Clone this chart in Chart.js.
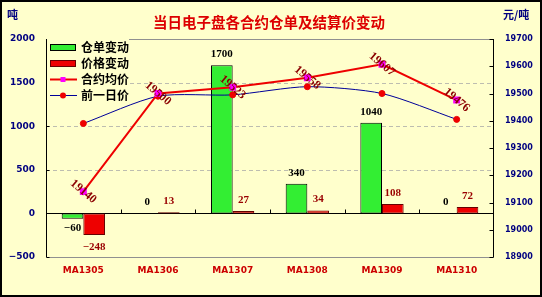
<!DOCTYPE html>
<html lang="zh">
<head>
<meta charset="UTF-8">
<script src="https://cdn.jsdelivr.net/npm/chart.js"></script>
<title>当日电子盘各合约仓单及结算价变动</title>
<style>
    body { margin: 0; background: #ffffff; }
</style>
</head>
<body>
<canvas id="grafico" width="542" height="297"></canvas>
<script>
    // dados
    const contratos = ['MA1305', 'MA1306', 'MA1307', 'MA1308', 'MA1309', 'MA1310'];
    const cangdanBiandong = [-60, 0, 1700, 340, 1040, 0];      // 仓单变动 (吨)
    const jiageBiandong = [-248, 13, 27, 34, 108, 72];         // 价格变动
    const heyueJunjia = [19140, 19500, 19523, 19558, 19607, 19476]; // 合约均价 (元/吨)
    const qianYiriJia = [19390, 19490, 19495, 19525, 19500, 19405]; // 前一日价

    const corFundo = '#ffffcc';

    // fundo, grade e moldura
    const fundo = {
        id: 'fundo',
        beforeDraw(chart) {
            const ctx = chart.ctx;
            ctx.save();
            ctx.fillStyle = corFundo;
            ctx.fillRect(0, 0, chart.width, chart.height);
            ctx.restore();
        },
        beforeDatasetsDraw(chart) {
            const { ctx, chartArea: a, scales: { x, y } } = chart;
            ctx.save();
            ctx.lineWidth = 1;
            ctx.strokeStyle = '#bdbdb0';
            ctx.setLineDash([4, 3]);
            [500, 1000, 1500].forEach(function (v) {
                const py = Math.round(y.getPixelForValue(v)) + 0.5;
                ctx.beginPath(); ctx.moveTo(a.left, py); ctx.lineTo(a.right, py); ctx.stroke();
            });
            ctx.setLineDash([]);
            ctx.strokeStyle = '#909090';
            [a.top, a.bottom].forEach(function (p) {
                const py = Math.round(p) + 0.5;
                ctx.beginPath(); ctx.moveTo(a.left, py); ctx.lineTo(a.right, py); ctx.stroke();
            });
            // linha do zero com marcas entre categorias
            const zero = Math.round(y.getPixelForValue(0)) + 0.5;
            ctx.strokeStyle = '#000000';
            ctx.beginPath(); ctx.moveTo(a.left, zero); ctx.lineTo(a.right, zero); ctx.stroke();
            for (let i = 0; i < contratos.length - 1; i++) {
                const px = Math.round((x.getPixelForValue(i) + x.getPixelForValue(i + 1)) / 2) + 0.5;
                ctx.beginPath(); ctx.moveTo(px, zero); ctx.lineTo(px, zero - 4); ctx.stroke();
            }
            ctx.restore();
        },
        afterDatasetsDraw(chart) {
            const { ctx, chartArea: a, scales: { y, y1 } } = chart;
            ctx.save();
            ctx.strokeStyle = '#000000';
            ctx.lineWidth = 1;
            const l = Math.round(a.left) + 0.5, r = Math.round(a.right) - 0.5;
            ctx.beginPath(); ctx.moveTo(l, a.top); ctx.lineTo(l, a.bottom); ctx.stroke();
            ctx.beginPath(); ctx.moveTo(r, a.top); ctx.lineTo(r, a.bottom); ctx.stroke();
            for (let v = -500; v <= 2000; v += 500) {
                const py = Math.round(y.getPixelForValue(v)) + 0.5;
                ctx.beginPath(); ctx.moveTo(l, py); ctx.lineTo(l + 3, py); ctx.stroke();
            }
            for (let v = 18900; v <= 19700; v += 100) {
                const py = Math.round(y1.getPixelForValue(v)) + 0.5;
                ctx.beginPath(); ctx.moveTo(r - 4, py); ctx.lineTo(r, py); ctx.stroke();
            }

            // rotulos das barras
            ctx.textAlign = 'center';
            ctx.textBaseline = 'middle';
            const m0 = chart.getDatasetMeta(0), m1 = chart.getDatasetMeta(1);
            ctx.font = 'bold 11px "Liberation Serif"';
            ctx.fillStyle = '#000000';
            cangdanBiandong.forEach(function (v, i) {
                const el = m0.data[i];
                ctx.fillText(String(v).replace('-', '\u2212'), el.x, v < 0 ? el.y + 10 : el.y - 11);
            });
            ctx.fillStyle = '#990000';
            jiageBiandong.forEach(function (v, i) {
                const el = m1.data[i];
                ctx.fillText(String(v).replace('-', '\u2212'), el.x, v < 0 ? el.y + 12 : el.y - 11);
            });

            // rotulos inclinados do 合约均价
            const m2 = chart.getDatasetMeta(2);
            ctx.font = 'bold 12px "Liberation Serif"';
            ctx.fillStyle = '#8b0000';
            heyueJunjia.forEach(function (v, i) {
                const el = m2.data[i];
                ctx.save();
                ctx.translate(el.x, el.y);
                ctx.rotate(40 * Math.PI / 180);
                ctx.fillText(String(v), 0, 0);
                ctx.restore();
            });
            ctx.restore();
        },
        afterDraw(chart) {
            const ctx = chart.ctx;
            ctx.save();
            // titulo e unidades
            ctx.textBaseline = 'middle';
            ctx.textAlign = 'center';
            ctx.fillStyle = '#dd0000';
            ctx.font = 'bold 14.5px "Noto Sans CJK SC"';
            ctx.fillText('当日电子盘各合约仓单及结算价变动', 269, 22);
            ctx.textAlign = 'left';
            ctx.fillStyle = '#000080';
            ctx.font = 'bold 11px "Noto Sans CJK SC"';
            ctx.fillText('吨', 7, 15);
            ctx.fillText('元/吨', 503, 15);

            // legenda
            ctx.fillStyle = corFundo;
            ctx.fillRect(47, 36, 82, 68);
            const linhas = [47.5, 63.5, 79.5, 95.5];
            ctx.lineWidth = 1;
            ctx.fillStyle = '#33ee33';
            ctx.fillRect(50, 44, 26, 7);
            ctx.strokeStyle = '#000000';
            ctx.strokeRect(50.5, 44.5, 25, 6);
            ctx.fillStyle = '#ee0000';
            ctx.fillRect(50, 60, 26, 7);
            ctx.strokeStyle = '#660000';
            ctx.strokeRect(50.5, 60.5, 25, 6);
            ctx.strokeStyle = '#ee0000';
            ctx.lineWidth = 2;
            ctx.beginPath(); ctx.moveTo(50, 79.5); ctx.lineTo(77, 79.5); ctx.stroke();
            ctx.fillStyle = '#ff00ff';
            ctx.fillRect(60.5, 77, 5, 5);
            ctx.strokeStyle = '#000099';
            ctx.lineWidth = 1;
            ctx.beginPath(); ctx.moveTo(50, 95.5); ctx.lineTo(77, 95.5); ctx.stroke();
            ctx.fillStyle = '#ee0000';
            ctx.beginPath(); ctx.arc(63, 95.5, 3, 0, Math.PI * 2); ctx.fill();
            ctx.fillStyle = '#000000';
            ctx.font = 'bold 12px "Noto Sans CJK SC"';
            ['仓单变动', '价格变动', '合约均价', '前一日价'].forEach(function (t, i) {
                ctx.fillText(t, 81, linhas[i]);
            });

            // moldura externa
            ctx.strokeStyle = '#000000';
            ctx.lineWidth = 2;
            ctx.strokeRect(1, 1, chart.width - 2, chart.height - 2);
            ctx.restore();
        }
    };

    const fonteEixo = { family: 'DejaVu Sans', weight: 'bold', size: 9 };

    const config = {
        data: {
            labels: contratos,
            datasets: [
                {
                    type: 'bar', label: '仓单变动', data: cangdanBiandong, yAxisID: 'y',
                    backgroundColor: '#33ee33', borderColor: '#000000', borderWidth: 1, borderSkipped: false,
                    categoryPercentage: 0.58, barPercentage: 1, order: 3
                },
                {
                    type: 'bar', label: '价格变动', data: jiageBiandong, yAxisID: 'y',
                    backgroundColor: '#ee0000', borderColor: '#660000', borderWidth: 1, borderSkipped: false,
                    categoryPercentage: 0.58, barPercentage: 1, order: 3
                },
                {
                    type: 'line', label: '合约均价', data: heyueJunjia, yAxisID: 'y1',
                    borderColor: '#ee0000', borderWidth: 2, tension: 0,
                    pointStyle: 'rect', pointRadius: 3.5,
                    pointBackgroundColor: '#ff00ff', pointBorderColor: '#ff00ff', order: 1
                },
                {
                    type: 'line', label: '前一日价', data: qianYiriJia, yAxisID: 'y1',
                    borderColor: '#000099', borderWidth: 1, tension: 0.25,
                    pointStyle: 'circle', pointRadius: 3,
                    pointBackgroundColor: '#ee0000', pointBorderColor: '#ee0000', order: 2
                }
            ]
        },
        options: {
            responsive: false,
            animation: false,
            layout: { padding: { top: 39, left: 0, right: 0, bottom: 0 } },
            plugins: { legend: { display: false }, tooltip: { enabled: false } },
            scales: {
                x: {
                    grid: { display: false, drawTicks: false }, border: { display: false },
                    ticks: { color: '#cc0000', font: fonteEixo, padding: 8, maxRotation: 0 },
                    afterFit(s) { s.height = 40; }
                },
                y: {
                    position: 'left', min: -500, max: 2000,
                    grid: { display: false, drawTicks: false }, border: { display: false },
                    ticks: { stepSize: 500, color: '#000080', font: fonteEixo, padding: 11,
                        callback: v => String(v).replace('-', '\u2212') },
                    afterFit(s) { s.width = 46; }
                },
                y1: {
                    position: 'right', min: 18900, max: 19700,
                    grid: { display: false, drawTicks: false }, border: { display: false },
                    ticks: { stepSize: 100, color: '#000080', font: { family: 'DejaVu Sans', weight: 'bold', size: 8 }, padding: 11,
                        callback: v => String(v) },
                    afterFit(s) { s.width = 48; }
                }
            }
        },
        plugins: [fundo]
    };

    new Chart(document.getElementById('grafico'), config);
</script>
</body>
</html>
